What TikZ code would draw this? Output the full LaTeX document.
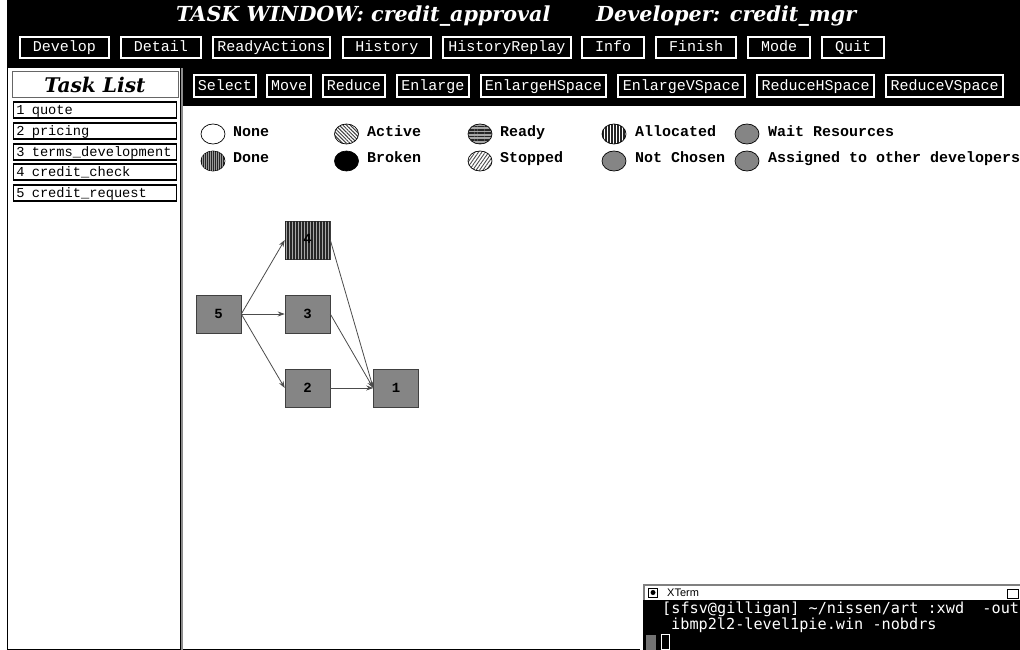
\documentclass[tikz,border=0pt]{standalone}
\usepackage{fontspec}
\setmainfont{DejaVu Serif}
\setmonofont{Liberation Mono}
\setsansfont{Liberation Sans}
\newfontfamily\termfont{DejaVu Sans Mono}
\usetikzlibrary{arrows.meta,patterns.meta,shapes.geometric}
\definecolor{dith}{gray}{0.52}
\newcommand{\mono}[1]{\fontsize{#1}{#1}\selectfont\ttfamily}
\tikzset{
  btn/.style={draw=white,line width=1.3pt,fill=black,text=white,inner sep=0pt,font=\mono{15},text height=10pt,text depth=1pt},
  tasktitle/.style={draw=black!60,line width=1pt,fill=white,inner sep=0pt,font=\fontsize{20.2}{22}\selectfont\bfseries\itshape},
  taskrow/.style={draw=black,line width=1.6pt,fill=white,inner sep=0pt,text=black,font=\mono{13.7},text height=10pt,text depth=1pt},
  leg/.style={anchor=base west,inner sep=0pt,text=black,font=\mono{15}\bfseries},
  swatch/.style={ellipse,draw=black,line width=.7pt,inner sep=0pt,minimum width=24pt,minimum height=20pt},
  toptitle/.style={anchor=base west,inner sep=0pt,text=white,font=\fontsize{20.7}{22}\selectfont\bfseries\itshape},
  term/.style={anchor=base west,inner sep=0pt,text=white,font=\fontsize{15.2}{15}\selectfont\termfont},
  tasknode/.style={draw=black!75,line width=.6pt,fill=dith,inner sep=0pt,minimum width=45pt,minimum height=38pt,font=\mono{14}\bfseries},
  link/.style={draw=black!70,line width=.8pt,-{Stealth[length=7pt,width=5pt]}},
  fdone/.style={fill=black!85,postaction={pattern={Lines[angle=90,distance=2pt,line width=.4pt]},pattern color=black!40}},
  factive/.style={fill=white,pattern={Lines[angle=-45,distance=2.6pt,line width=1pt]},pattern color=black!75},
  fready/.style={fill=black!35,postaction={pattern={Lines[angle=0,distance=3.4pt,line width=1.6pt]},pattern color=black!85}},
  fstopped/.style={pattern={Lines[angle=55,distance=2.8pt,line width=.9pt]},pattern color=black!70},
  falloc/.style={pattern={Lines[angle=90,distance=3pt,line width=1.4pt]},pattern color=black!85},
  fgray/.style={fill=dith},
}
% name, x1, x2, y1, y2, text
\newcommand{\btn}[6]{\node[btn,minimum width=#3pt-#2pt,minimum height=#5pt-#4pt] (#1) at ({(#2+#3)/2},{(#4+#5)/2}) {#6};}
\newcommand{\row}[5]{\node[taskrow,anchor=west,minimum width=163pt,minimum height=#3pt-#2pt,text width=160pt,align=left] (#1) at (12.5,{(#2+#3)/2}) {\hspace*{1.5pt}#4\hspace{7.3pt}#5};}
\begin{document}
\begin{tikzpicture}[x=1pt,y=-1pt]
\useasboundingbox (0,0) rectangle (1020,650);
% window background
\fill[white] (0,0) rectangle (1020,650);
\fill[black] (7,0) rectangle (1020,106);
\fill[white] (8,68) rectangle (180,649);
\draw[black,line width=1pt] (7.5,68) -- (7.5,649.5) -- (640,649.5);
\draw[black,line width=1.4pt] (180.5,68) -- (180.5,650);
\draw[black!45,line width=1.2pt] (182,68) -- (182,650);
% title
\node[toptitle] (ttl) at (176,21.5) {TASK WINDOW: credit\_approval};
\node[toptitle] (dev) at (596,21.5) {Developer: credit\_mgr};
% top button row
\btn{develop}{20}{109}{37}{58}{Develop}
\btn{detail}{121}{201}{37}{58}{Detail}
\btn{ready}{213}{330}{37}{58}{ReadyActions}
\btn{history}{343}{431}{37}{58}{History}
\btn{replay}{443}{571}{37}{58}{HistoryReplay}
\btn{info}{582}{644}{37}{58}{Info}
\btn{finish}{656}{736}{37}{58}{Finish}
\btn{mode}{748}{810}{37}{58}{Mode}
\btn{quit}{822}{884}{37}{58}{Quit}
% second button row
\btn{select}{194}{256}{75}{97}{Select}
\btn{move}{267}{311}{75}{97}{Move}
\btn{reduce}{323}{385}{75}{97}{Reduce}
\btn{enlarge}{397}{469}{75}{97}{Enlarge}
\btn{enlh}{481}{606}{75}{97}{EnlargeHSpace}
\btn{enlv}{618}{745}{75}{97}{EnlargeVSpace}
\btn{redh}{757}{874}{75}{97}{ReduceHSpace}
\btn{redv}{886}{1003}{75}{97}{ReduceVSpace}
% task list
\node[tasktitle,minimum width=166pt,minimum height=26pt] (tl) at (95,85) {Task List};
\row{r1}{102}{118}{1}{quote}
\row{r2}{123}{139}{2}{pricing}
\row{r3}{144}{160}{3}{terms\_development}
\row{r4}{164}{180}{4}{credit\_check}
\row{r5}{185}{201}{5}{credit\_request}
% legend
\node[swatch,fill=white] (sNone) at (213,134) {};
\node[swatch,fdone] (sDone) at (213,161) {};
\node[swatch,factive] (sActive) at (346.5,134) {};
\node[swatch,fill=black] (sBroken) at (346.5,161) {};
\node[swatch,fready] (sReady) at (480,134) {};
\node[swatch,fstopped] (sStopped) at (480,161) {};
\node[swatch,falloc] (sAlloc) at (614,134) {};
\node[swatch,fgray] (sNot) at (614,161) {};
\node[swatch,fgray] (sWait) at (747,134) {};
\node[swatch,fgray] (sAss) at (747,161) {};
\node[leg] (lNone) at (233,136) {None};
\node[leg] (lDone) at (233,162) {Done};
\node[leg] (lActive) at (367,136) {Active};
\node[leg] (lBroken) at (367,162) {Broken};
\node[leg] (lReady) at (500,136) {Ready};
\node[leg] (lStopped) at (500,162) {Stopped};
\node[leg] (lAlloc) at (635,136) {Allocated};
\node[leg] (lNot) at (635,162) {Not Chosen};
\node[leg] (lWait) at (768,136) {Wait Resources};
\node[leg] (lAss) at (768,162) {Assigned to other developers};
% task network
\node[tasknode] (n5) at (218.5,314) {5};
\node[tasknode,fill=black!35,postaction={pattern={Lines[angle=90,distance=3pt,line width=1.2pt]},pattern color=black!85}] (n4) at (307.5,240) {};
\node[font=\mono{14}\bfseries,inner sep=0pt] (n4t) at (307.5,238.5) {4};
\node[tasknode] (n3) at (307.5,314) {3};
\node[tasknode] (n2) at (307.5,388) {2};
\node[tasknode] (n1) at (396,388) {1};
\draw[link] (n5.east) -- (n4.west);
\draw[link] (n5.east) -- (n3.west);
\draw[link] (n5.east) -- (n2.west);
\draw[link] (n4.east) -- (n1.west);
\draw[link] (n3.east) -- (n1.west);
\draw[link] (n2.east) -- (n1.west);
% xterm
\fill[black] (643,584) rectangle (1020,650);
\fill[white] (645,586) rectangle (1020,600);
\draw[black!50,line width=1.6pt] (643,584.8) -- (1020,584.8);
\draw[black!50,line width=1.6pt] (643.8,584) -- (643.8,600);
\node[draw=black,line width=.8pt,fill=white,minimum width=9pt,minimum height=9pt,inner sep=0pt] (xbtn) at (653,592.5) {};
\node[circle,fill=black,minimum size=5pt,inner sep=0pt] (xdot) at (xbtn) {};
\node[anchor=base west,inner sep=0pt,font=\fontsize{11}{11}\selectfont\sffamily] (xttl) at (667,596.5) {XTerm};
\node[draw=black,line width=.9pt,fill=white,minimum width=11pt,minimum height=9pt,inner sep=0pt] (xres) at (1013,593.5) {};
\node[term] (t1) at (662,613) {[sfsv@gilligan] \string~/nissen/art :xwd\ \ -out};
\node[term] (t2) at (671,629) {ibmp2l2-level1pie.win -nobdrs};
\fill[black!55] (646,635) rectangle (656,650);
\node[draw=white,line width=.9pt,minimum width=8pt,minimum height=15pt,inner sep=0pt] (cur) at (665,642) {};
\end{tikzpicture}
\end{document}
